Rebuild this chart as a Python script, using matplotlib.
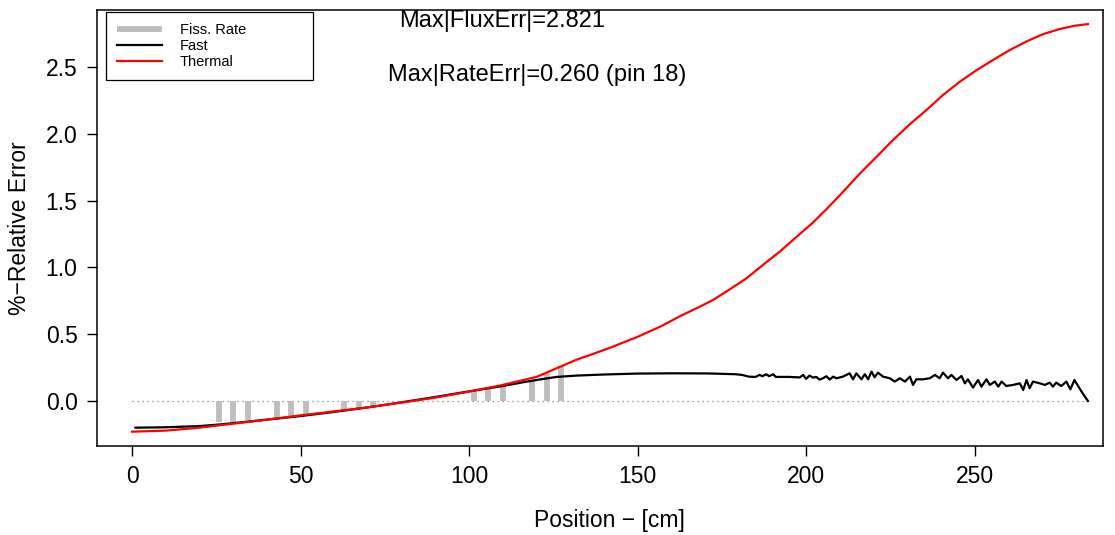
import numpy as np
import matplotlib
matplotlib.use("Agg")
import matplotlib.pyplot as plt

plt.rcParams['font.family'] = ['Liberation Sans', 'DejaVu Sans']

# fission rate error per pin (bars)
pin_pos = [25.8, 30.0, 34.5, 43.0, 47.2, 51.6, 62.9, 67.3, 71.5,
           101.4, 105.6, 110.0, 118.6, 123.0, 127.2]
pin_err = [-0.160, -0.155, -0.142, -0.130, -0.118, -0.105, -0.067, -0.055, -0.043,
           0.080, 0.097, 0.110, 0.157, 0.210, 0.260]

# thermal flux error
therm_x = [0, 10, 20, 30, 40, 50, 60, 70, 80, 90, 100, 110, 120, 126, 132,
           136, 142, 150, 157, 163, 168, 172.4, 177, 182.3, 187, 192.2, 197,
           202, 206, 210, 216, 221, 225.8, 230.7, 235.7, 240.6, 245.6, 250.5,
           255.4, 260.3, 265.3, 270.2, 275.2, 279.5, 283.6]
therm_y = [-0.230, -0.222, -0.200, -0.170, -0.140, -0.108, -0.078, -0.048,
           -0.012, 0.025, 0.070, 0.120, 0.180, 0.245, 0.310, 0.345, 0.400,
           0.480, 0.560, 0.640, 0.700, 0.756, 0.830, 0.918, 1.015, 1.118,
           1.225, 1.335, 1.435, 1.540, 1.704, 1.830, 1.954, 2.070, 2.178,
           2.290, 2.390, 2.475, 2.552, 2.625, 2.690, 2.745, 2.784, 2.808,
           2.821]

# fast flux error
fast_x = [1, 10, 20, 26, 30, 40, 50, 60, 70, 80, 90, 100, 110, 116, 120, 126,
          132, 140, 150, 160, 171, 179, 181, 183, 185, 186.2, 187, 188.2, 189,
          190.2, 191, 192.2, 195, 198.1, 199.1, 200, 201, 202, 203, 204, 205,
          206, 207, 208, 209, 210.9, 212.9, 213.9, 214.9, 216.4, 217.4, 218.4,
          219.4, 220.3, 221.3, 222.8, 224.8, 226.3, 227.8, 229.3, 230.8, 231.7,
          232.7, 234.7, 236.7, 238.2, 239.6, 240.6, 242.1, 243.1, 244.6, 246.1,
          247.1, 248.0, 249.5, 251.0, 252.0, 253.5, 254.5, 256.0, 257.0, 258.0,
          259.4, 261.4, 263.4, 264.4, 265.4, 266.3, 267.3, 269.3, 270.8, 272.3,
          273.2, 274.2, 275.7, 277.2, 278.4, 279.6, 281.1, 282.1, 283.6]
fast_y = [-0.200, -0.197, -0.188, -0.176, -0.166, -0.140, -0.113, -0.082,
          -0.048, -0.010, 0.030, 0.072, 0.112, 0.140, 0.157, 0.180, 0.190,
          0.198, 0.205, 0.207, 0.206, 0.200, 0.195, 0.182, 0.180, 0.195,
          0.185, 0.200, 0.185, 0.200, 0.180, 0.180, 0.180, 0.176, 0.195,
          0.165, 0.190, 0.175, 0.180, 0.160, 0.170, 0.185, 0.160, 0.182,
          0.170, 0.182, 0.207, 0.162, 0.207, 0.162, 0.200, 0.162, 0.220,
          0.177, 0.212, 0.182, 0.170, 0.145, 0.170, 0.145, 0.182, 0.120,
          0.162, 0.162, 0.170, 0.195, 0.170, 0.212, 0.170, 0.195, 0.157,
          0.187, 0.132, 0.162, 0.100, 0.157, 0.107, 0.162, 0.120, 0.145,
          0.107, 0.145, 0.112, 0.120, 0.132, 0.082, 0.157, 0.095, 0.145,
          0.132, 0.120, 0.137, 0.107, 0.137, 0.112, 0.145, 0.087, 0.157,
          0.095, 0.055, 0.000]

max_flux = max(abs(v) for v in therm_y + fast_y)
imax = int(np.argmax(np.abs(pin_err)))

fig = plt.figure(figsize=(11.15, 5.35), dpi=100)
ax = fig.add_axes([0.087, 0.1664, 0.902, 0.815])

ax.plot([0, 284], [0, 0], color='#808080', lw=0.9, ls=(0, (1, 3)))
ax.vlines(pin_pos, 0, pin_err, color='#BEBEBE', lw=4.2, capstyle='butt',
          label='Fiss. Rate')
ax.plot(fast_x, fast_y, color='black', lw=1.6, label='Fast')
ax.plot(therm_x, therm_y, color='red', lw=1.6, label='Thermal')

ax.set_xlim(-10.4, 288)
ax.set_ylim(-0.337, 2.927)
ax.set_xticks([0, 50, 100, 150, 200, 250])
ax.set_yticks([0.0, 0.5, 1.0, 1.5, 2.0, 2.5])
ax.set_yticklabels(['0.0', '0.5', '1.0', '1.5', '2.0', '2.5'])
ax.tick_params(direction='out', length=7, width=1, labelsize=16.5, pad=7)
for s in ax.spines.values():
    s.set_linewidth(1.1)

ax.set_xlabel('Position \u2212 [cm]', fontsize=16.5)
ax.xaxis.set_label_coords(0.51, -0.145)
ax.set_ylabel('%\u2212Relative Error', fontsize=16.5)
ax.yaxis.set_label_coords(-0.066, 0.5)

ax.text(0.4026, 0.975, 'Max|FluxErr|=%.3f' % max_flux, transform=ax.transAxes,
        ha='center', va='center', fontsize=17)
ax.text(0.4374, 0.851, 'Max|RateErr|=%.3f (pin %d)' % (abs(pin_err[imax]), 18),
        transform=ax.transAxes, ha='center', va='center', fontsize=17)

leg = ax.legend(loc='upper left', bbox_to_anchor=(0.0089, 0.9954, 0.2058, 0.0),
                mode='expand', fontsize=10.5, handlelength=3.1, handletextpad=1.2,
                labelspacing=0.15, borderpad=0.75, fancybox=False,
                edgecolor='black', framealpha=1, borderaxespad=0)
leg.get_frame().set_linewidth(0.9)

fig.savefig('out.png', dpi=100)
